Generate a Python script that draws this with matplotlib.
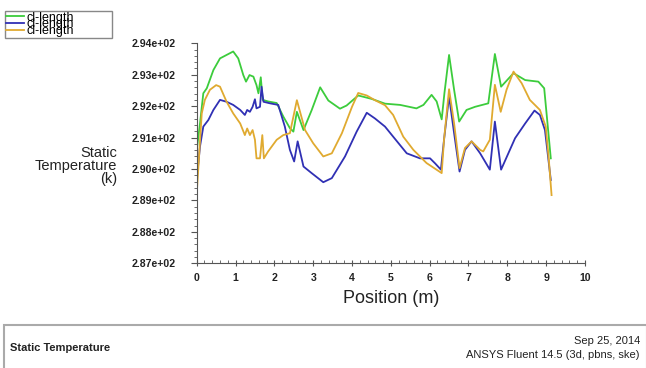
import numpy as np
import matplotlib
matplotlib.use('Agg')
import matplotlib.pyplot as plt
from matplotlib.ticker import MultipleLocator, FormatStrFormatter
from matplotlib.patches import Rectangle

plt.rcParams['font.family'] = ['Liberation Sans', 'DejaVu Sans']

# positions (m) and static temperatures (K)
x_green = [0, 0.085, 0.17, 0.26, 0.43, 0.6, 0.77, 0.94, 1.07, 1.2, 1.27, 1.36,
           1.46, 1.54, 1.59, 1.65, 1.7, 1.84, 2.06, 2.23, 2.4, 2.49, 2.58, 2.75,
           2.96, 3.18, 3.39, 3.69, 3.86, 4.16, 4.51, 4.85, 5.24, 5.66, 5.84, 6.05,
           6.18, 6.31, 6.38, 6.5, 6.63, 6.76, 6.95, 7.17, 7.51, 7.68, 7.84, 8.16,
           8.46, 8.8, 8.95, 9.12]
t_green = [290.6, 291.45, 292.41, 292.57, 293.15, 293.52, 293.63, 293.74, 293.52,
           292.99, 292.78, 292.99, 292.94, 292.67, 292.41, 292.92, 292.2, 292.15,
           292.1, 291.67, 291.3, 291.19, 291.82, 291.24, 291.87, 292.6, 292.18,
           291.92, 292.02, 292.34, 292.23, 292.08, 292.04, 291.93, 292.04, 292.36,
           292.15, 291.58, 292.41, 293.63, 292.52, 291.51, 291.88, 291.98, 292.09,
           293.66, 292.62, 293.05, 292.83, 292.78, 292.57, 290.34]

x_blue = [0, 0.085, 0.17, 0.3, 0.43, 0.6, 0.77, 0.94, 1.12, 1.24, 1.3, 1.37, 1.44,
          1.5, 1.54, 1.63, 1.67, 1.72, 1.89, 2.1, 2.27, 2.4, 2.51, 2.6, 2.75, 2.96,
          3.26, 3.48, 3.82, 4.12, 4.38, 4.59, 4.85, 5.06, 5.41, 5.75, 6.01, 6.14,
          6.29, 6.37, 6.5, 6.63, 6.77, 6.91, 7.08, 7.3, 7.55, 7.68, 7.84, 8.2, 8.46,
          8.7, 8.84, 8.97, 9.12]
t_blue = [289.65, 290.72, 291.35, 291.56, 291.88, 292.2, 292.14, 292.04, 291.88,
          291.72, 291.88, 291.82, 291.98, 292.22, 291.93, 291.98, 292.62, 292.14,
          292.09, 292.04, 291.35, 290.61, 290.24, 290.88, 290.08, 289.87, 289.58,
          289.71, 290.4, 291.19, 291.79, 291.61, 291.35, 291.03, 290.5, 290.34,
          290.34, 290.18, 289.98, 290.93, 292.31, 291.14, 289.92, 290.61, 290.88,
          290.5, 289.98, 291.51, 289.98, 290.98, 291.45, 291.86, 291.72, 291.24,
          289.65]

x_yellow = [0, 0.085, 0.13, 0.21, 0.34, 0.5, 0.6, 0.77, 0.94, 1.12, 1.24, 1.3, 1.37,
            1.44, 1.5, 1.54, 1.63, 1.69, 1.73, 1.84, 2.06, 2.23, 2.4, 2.58, 2.79,
            3.0, 3.26, 3.48, 3.74, 4.0, 4.16, 4.38, 4.59, 4.85, 5.06, 5.32, 5.58,
            5.92, 6.31, 6.37, 6.5, 6.63, 6.77, 6.91, 7.08, 7.3, 7.38, 7.55, 7.68,
            7.83, 7.98, 8.16, 8.37, 8.58, 8.84, 8.99, 9.07, 9.14]
t_yellow = [289.2, 290.9, 291.77, 292.2, 292.52, 292.67, 292.62, 292.14, 291.77,
            291.45, 291.08, 291.29, 291.08, 291.24, 290.93, 290.34, 290.34, 291.08,
            290.34, 290.56, 290.93, 291.08, 291.14, 292.19, 291.24, 290.82, 290.4,
            290.5, 291.14, 291.98, 292.42, 292.34, 292.19, 292.03, 291.72, 291.03,
            290.61, 290.19, 289.87, 290.93, 292.54, 291.45, 290.03, 290.67, 290.88,
            290.61, 290.56, 290.93, 292.68, 291.82, 292.52, 293.1, 292.73, 292.2,
            291.88, 291.35, 290.29, 289.17]

labels = ['cl-length', 'cl-length', 'cl-length']
colors = ['#3ccc3c', '#3030b4', '#e0aa30']

fig = plt.figure(figsize=(6.46, 3.68), dpi=100)
ax = fig.add_axes((0.3045, 0.2845, 0.601, 0.5978))

h = []
for xs, ts, c, lab in zip([x_green, x_blue, x_yellow], [t_green, t_blue, t_yellow], colors, labels):
    ln, = ax.plot(xs, ts, color=c, lw=1.3, label=lab)
    h.append(ln)

ax.set_xlim(0, 10)
ax.set_ylim(287, 294)
ax.xaxis.set_major_locator(MultipleLocator(1))
ax.xaxis.set_minor_locator(MultipleLocator(0.2))
ax.yaxis.set_major_locator(MultipleLocator(1))
ax.yaxis.set_minor_locator(MultipleLocator(0.2))
ax.yaxis.set_major_formatter(FormatStrFormatter('%.2e'))
for s in ['top', 'right']:
    ax.spines[s].set_visible(False)
for s in ['left', 'bottom']:
    ax.spines[s].set_color('#555555')
    ax.spines[s].set_linewidth(0.8)
ax.tick_params(axis='y', which='major', direction='out', length=4, width=0.8,
               color='#555555', labelsize=7.6, pad=11)
ax.tick_params(axis='y', which='minor', direction='out', length=2, width=0.6, color='#555555')
ax.tick_params(axis='x', which='major', direction='inout', length=4, width=0.8,
               color='#555555', labelsize=7.6, pad=5)
ax.tick_params(axis='x', which='minor', direction='in', length=2, width=0.6, color='#555555')
for lb in ax.get_xticklabels() + ax.get_yticklabels():
    lb.set_fontweight('bold')
    lb.set_color('#222222')

ax.set_xlabel('Position (m)', fontsize=13, color='#222222', labelpad=5)
fig.text(117 / 646, 1 - 166 / 368, 'Static\nTemperature\n(k)', ha='right', va='center',
         fontsize=10.5, color='#222222', linespacing=0.9, multialignment='right')

# legend rows sit tightly stacked, as in the Fluent export
fig.legend(handles=h, loc='upper left', bbox_to_anchor=(5 / 646, 1 - 11 / 368 - 0.01, 107 / 646, 0.01),
           mode='expand', fontsize=9, labelspacing=-0.42, handlelength=1.5, handletextpad=0.2,
           borderpad=0.05, borderaxespad=0, fancybox=False, edgecolor='#888888', framealpha=1)

fig.add_artist(Rectangle((4 / 646, -0.01), 0.995, 0.127, transform=fig.transFigure,
                         facecolor='none', edgecolor='#aaaaaa', lw=1.5))
fig.text(10 / 646, 1 - 348 / 368, 'Static Temperature', fontsize=8, fontweight='bold',
         va='center', ha='left', color='#222222')
fig.text(640 / 646, 1 - 341 / 368, 'Sep 25, 2014', fontsize=8, va='center', ha='right', color='#222222')
fig.text(640 / 646, 1 - 355 / 368, 'ANSYS Fluent 14.5 (3d, pbns, ske)', fontsize=8,
         va='center', ha='right', color='#222222')

fig.savefig('out.png', dpi=100)
